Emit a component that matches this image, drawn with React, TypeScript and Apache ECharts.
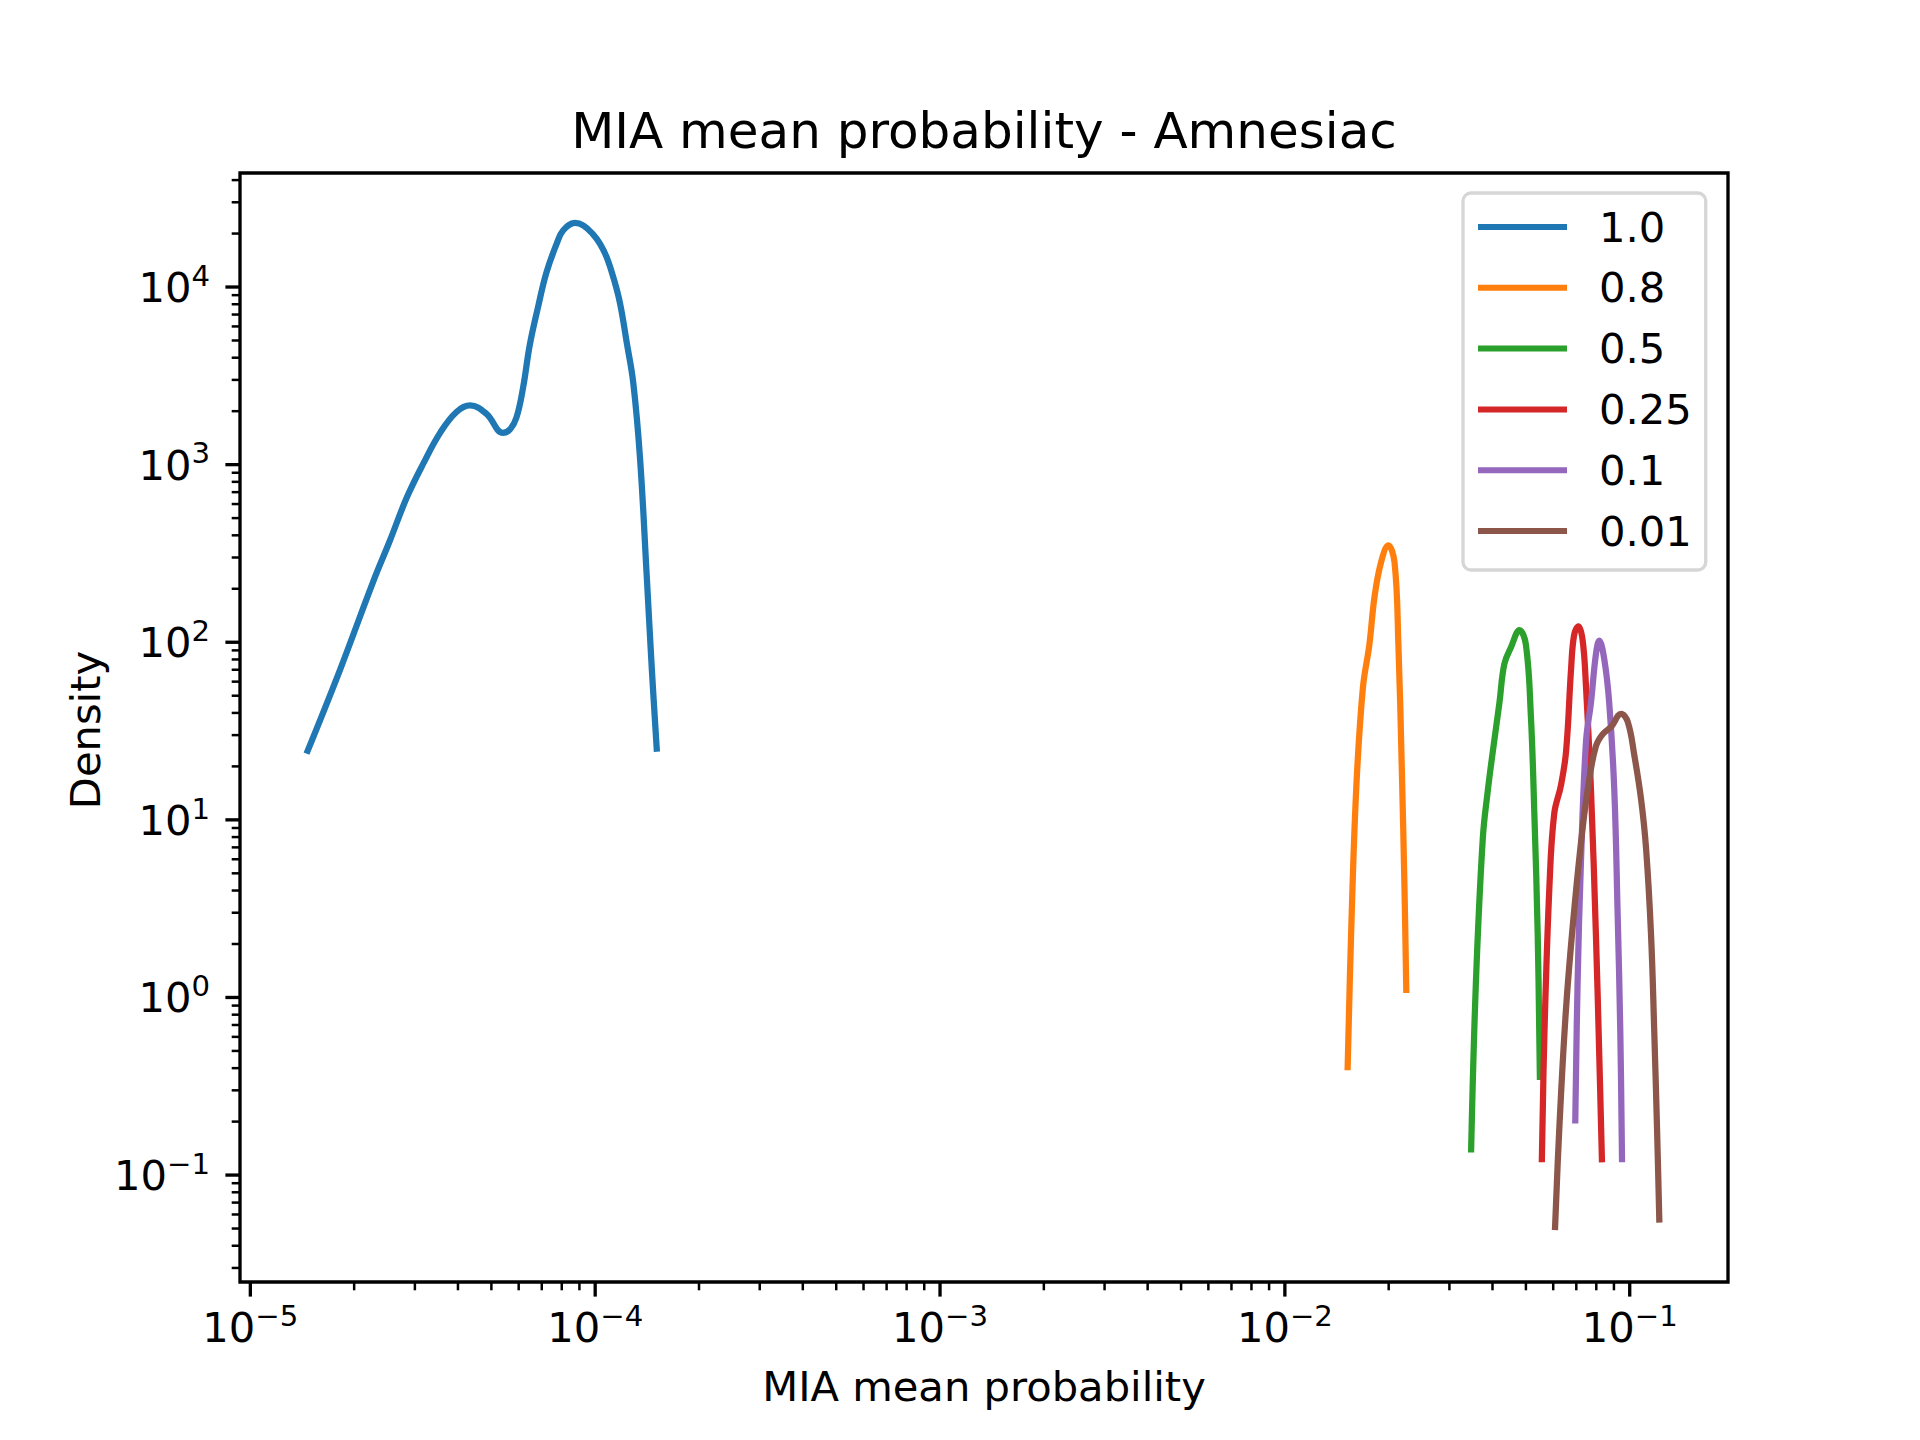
import React, { useEffect, useRef } from "react";
import * as echarts from "echarts";

// ---- data ----
const seriesNames = ["1.0", "0.8", "0.5", "0.25", "0.1", "0.01"];
const seriesColors = ["#1f77b4", "#ff7f0e", "#2ca02c", "#d62728", "#9467bd", "#8c564b"];

const s10: number[][] = [
  [1.455e-5, 23.6], [1.82e-5, 70], [2.27e-5, 219], [2.54e-5, 374], [2.84e-5, 650],
  [3.17e-5, 1009], [3.55e-5, 1510], [3.96e-5, 1980], [4.34e-5, 2155], [4.84e-5, 1932],
  [5.4e-5, 1510], [5.66e-5, 1578], [5.91e-5, 1838], [6.18e-5, 2720], [6.46e-5, 4710],
  [6.83e-5, 7730], [7.22e-5, 12060], [7.73e-5, 17500], [8.07e-5, 20800], [8.73e-5, 22960],
  [9.25e-5, 22180], [9.86e-5, 19800], [1.033e-4, 17500], [1.08e-4, 14700], [1.127e-4, 11460],
  [1.18e-4, 8120], [1.233e-4, 4930], [1.29e-4, 2870], [1.35e-4, 1066], [1.41e-4, 241],
  [1.46e-4, 70], [1.51e-4, 24.2],
];
const s08: number[][] = [
  [0.0152, 0.389], [0.01556, 2.25], [0.0161, 14.8], [0.01683, 55], [0.01758, 97],
  [0.0182, 181], [0.019, 281], [0.01995, 351], [0.0208, 281], [0.02134, 97],
  [0.02182, 20.2], [0.02222, 4.22], [0.0225, 1.06],
];
const s05: number[][] = [
  [0.03467, 0.134], [0.0358, 1.2], [0.0375, 7.9], [0.0388, 14.8], [0.0401, 24.4],
  [0.0419, 45.7], [0.0433, 75.5], [0.0453, 94], [0.0479, 117], [0.05, 97],
  [0.0517, 38], [0.0529, 10.8], [0.0541, 2.25], [0.0549, 0.343],
];
const s025: number[][] = [
  [0.0556, 0.118], [0.0566, 0.644], [0.0585, 4.22], [0.0604, 10.8], [0.0632, 15.7],
  [0.0654, 24.4], [0.0676, 70.8], [0.069, 110], [0.071, 123], [0.073, 103],
  [0.0746, 58.6], [0.0772, 14.8], [0.0798, 2.25], [0.0816, 0.47], [0.0831, 0.118],
];
const s01: number[][] = [
  [0.0695, 0.195], [0.0706, 1.2], [0.0722, 5.77], [0.0747, 27.7], [0.0772, 45.7],
  [0.0798, 85.7], [0.0816, 102], [0.0844, 80], [0.0872, 45.7], [0.0902, 14.8],
  [0.0922, 3.08], [0.0939, 0.644], [0.095, 0.118],
];
const s001: number[][] = [
  [0.0607, 0.049], [0.0625, 0.184], [0.0654, 0.88], [0.069, 3.08], [0.073, 8.95],
  [0.0763, 16.8], [0.0798, 26], [0.0835, 30.4], [0.0883, 33.4], [0.0944, 39.5],
  [0.0987, 35.6], [0.1032, 22.9], [0.1079, 13], [0.1115, 6.96], [0.1153, 2.25],
  [0.1178, 0.644], [0.12, 0.184], [0.1219, 0.054],
];
const seriesData = [s10, s08, s05, s025, s01, s001];

// axis ranges (log10) and tick labels
const X_LOG_RANGE = [-5.03, -0.715];
const Y_LOG_RANGE = [-1.602, 4.642];
const xTickExponents = [-5, -4, -3, -2, -1];
const yTickExponents = [-1, 0, 1, 2, 3, 4];
const minorMultipliers = [2, 3, 4, 5, 6, 7, 8, 9];

const TITLE = "MIA mean probability - Amnesiac";
const X_LABEL = "MIA mean probability";
const Y_LABEL = "Density";

const FONT = "'DejaVu Sans', sans-serif";
const FS = 41.67;
const FS_SUP = 29.17;

const X_MIN = Math.pow(10, X_LOG_RANGE[0]);
const X_MAX = Math.pow(10, X_LOG_RANGE[1]);
const Y_MIN = Math.pow(10, Y_LOG_RANGE[0]);
const Y_MAX = Math.pow(10, Y_LOG_RANGE[1]);

type Tick = { v: number; major: boolean; exp: number };

function buildTicks(exps: number[], lo: number, hi: number): Tick[] {
  const out: Tick[] = [];
  const first = exps[0] - 1;
  const last = exps[exps.length - 1];
  for (let e = first; e <= last; e++) {
    const base = Math.pow(10, e);
    if (exps.indexOf(e) >= 0) out.push({ v: base, major: true, exp: e });
    minorMultipliers.forEach((m) => {
      const v = m * base;
      if (v >= lo && v <= hi) out.push({ v, major: false, exp: e });
    });
  }
  return out.filter((t) => t.v >= lo && t.v <= hi);
}

const measureCtx: CanvasRenderingContext2D | null =
  typeof document !== "undefined" ? document.createElement("canvas").getContext("2d") : null;
function textWidth(t: string, size: number): number {
  if (!measureCtx) return t.length * size * 0.6;
  measureCtx.font = `${size}px 'DejaVu Sans'`;
  return measureCtx.measureText(t).width;
}
function expStr(e: number): string {
  return e < 0 ? "\u2212" + Math.abs(e) : String(e);
}

export default function App() {
  const ref = useRef<HTMLDivElement>(null);

  useEffect(() => {
    document.body.style.margin = "0";
    if (!ref.current) return;
    const chart = echarts.init(ref.current, undefined, { renderer: "svg" });

    const xTicks = buildTicks(xTickExponents, X_MIN, X_MAX);
    const yTicks = buildTicks(yTickExponents, Y_MIN, Y_MAX);

    const lineSeries = seriesNames.map((name, i) => ({
      name,
      type: "line",
      data: seriesData[i],
      showSymbol: false,
      symbol: "none",
      smooth: 0.4,
      clip: true,
      color: seriesColors[i],
      itemStyle: { color: seriesColors[i] },
      lineStyle: { color: seriesColors[i], width: 6.25, join: "round" },
      emphasis: { disabled: true },
      z: 3,
    }));

    const xTickSeries = {
      type: "custom",
      coordinateSystem: "cartesian2d",
      clip: false,
      silent: true,
      z: 5,
      data: xTicks.map((t) => [t.v, Y_MIN]),
      encode: { x: 0, y: 1 },
      renderItem: (params: any, api: any) => {
        const t = xTicks[params.dataIndex];
        const p = api.coord([t.v, Y_MIN]);
        const len = t.major ? 14.6 : 8.3;
        const children: any[] = [
          {
            type: "line",
            shape: { x1: p[0], y1: p[1], x2: p[0], y2: p[1] + len },
            style: { stroke: "#000", lineWidth: t.major ? 3.33 : 2.5 },
          },
        ];
        if (t.major) {
          const es = expStr(t.exp);
          const wm = textWidth("10", FS);
          const ws = textWidth(es, FS_SUP);
          const left = p[0] - (wm + ws) / 2;
          const baseline = p[1] + 60;
          children.push({
            type: "text",
            x: left,
            y: baseline - 0.35 * FS,
            style: { text: "10", fontSize: FS, fontFamily: FONT, fill: "#000", align: "left", verticalAlign: "middle" },
          });
          children.push({
            type: "text",
            x: left + wm,
            y: baseline - 16 - 0.35 * FS_SUP,
            style: { text: es, fontSize: FS_SUP, fontFamily: FONT, fill: "#000", align: "left", verticalAlign: "middle" },
          });
        }
        return { type: "group", children };
      },
    };

    const yTickSeries = {
      type: "custom",
      coordinateSystem: "cartesian2d",
      clip: false,
      silent: true,
      z: 5,
      data: yTicks.map((t) => [X_MIN, t.v]),
      encode: { x: 0, y: 1 },
      renderItem: (params: any, api: any) => {
        const t = yTicks[params.dataIndex];
        const p = api.coord([X_MIN, t.v]);
        const len = t.major ? 14.6 : 8.3;
        const children: any[] = [
          {
            type: "line",
            shape: { x1: p[0], y1: p[1], x2: p[0] - len, y2: p[1] },
            style: { stroke: "#000", lineWidth: t.major ? 3.33 : 2.5 },
          },
        ];
        if (t.major) {
          const es = expStr(t.exp);
          const ws = textWidth(es, FS_SUP);
          const right = p[0] - 30;
          const baseline = p[1] + 15;
          children.push({
            type: "text",
            x: right - ws,
            y: baseline - 0.35 * FS,
            style: { text: "10", fontSize: FS, fontFamily: FONT, fill: "#000", align: "right", verticalAlign: "middle" },
          });
          children.push({
            type: "text",
            x: right - ws,
            y: baseline - 16 - 0.35 * FS_SUP,
            style: { text: es, fontSize: FS_SUP, fontFamily: FONT, fill: "#000", align: "left", verticalAlign: "middle" },
          });
        }
        return { type: "group", children };
      },
    };

    const option: any = {
      animation: false,
      backgroundColor: "#ffffff",
      grid: {
        left: 240,
        top: 173,
        width: 1488,
        height: 1109,
        show: true,
        borderColor: "#000",
        borderWidth: 3.33,
        backgroundColor: "transparent",
        containLabel: false,
        outerBoundsMode: "none",
      },
      xAxis: {
        type: "log",
        logBase: 10,
        min: X_MIN,
        max: X_MAX,
        axisLine: { show: false },
        axisTick: { show: false },
        axisLabel: { show: false },
        splitLine: { show: false },
        minorTick: { show: false },
        minorSplitLine: { show: false },
      },
      yAxis: {
        type: "log",
        logBase: 10,
        min: Y_MIN,
        max: Y_MAX,
        axisLine: { show: false },
        axisTick: { show: false },
        axisLabel: { show: false },
        splitLine: { show: false },
        minorTick: { show: false },
        minorSplitLine: { show: false },
      },
      legend: {
        show: true,
        orient: "vertical",
        left: 1463,
        top: 193,
        data: seriesNames,
        icon: "rect",
        itemWidth: 89,
        itemHeight: 6,
        itemGap: 12.8,
        padding: [10, 14, 15, 15],
        selectedMode: false,
        backgroundColor: "rgba(255,255,255,0.8)",
        borderColor: "#d6d6d6",
        borderWidth: 3.33,
        borderRadius: 8,
        textStyle: {
          fontSize: FS,
          fontFamily: FONT,
          color: "#000",
          lineHeight: 48,
          padding: [0, 0, 0, 27],
        },
        z: 20,
      },
      graphic: [
        {
          type: "text",
          x: 984,
          y: 148 - 0.35 * 50,
          style: { text: TITLE, fontSize: 50, fontFamily: FONT, fill: "#000", align: "center", verticalAlign: "middle" },
        },
        {
          type: "text",
          x: 984,
          y: 1401 - 0.35 * FS,
          style: { text: X_LABEL, fontSize: FS, fontFamily: FONT, fill: "#000", align: "center", verticalAlign: "middle" },
        },
        {
          type: "text",
          x: 100 - 0.35 * FS,
          y: 730,
          rotation: Math.PI / 2,
          style: { text: Y_LABEL, fontSize: FS, fontFamily: FONT, fill: "#000", align: "center", verticalAlign: "middle" },
        },
      ],
      series: [...lineSeries, xTickSeries, yTickSeries],
    };

    chart.setOption(option);
    return () => {
      chart.dispose();
    };
  }, []);

  return <div ref={ref} style={{ width: 1920, height: 1440 }} />;
}
